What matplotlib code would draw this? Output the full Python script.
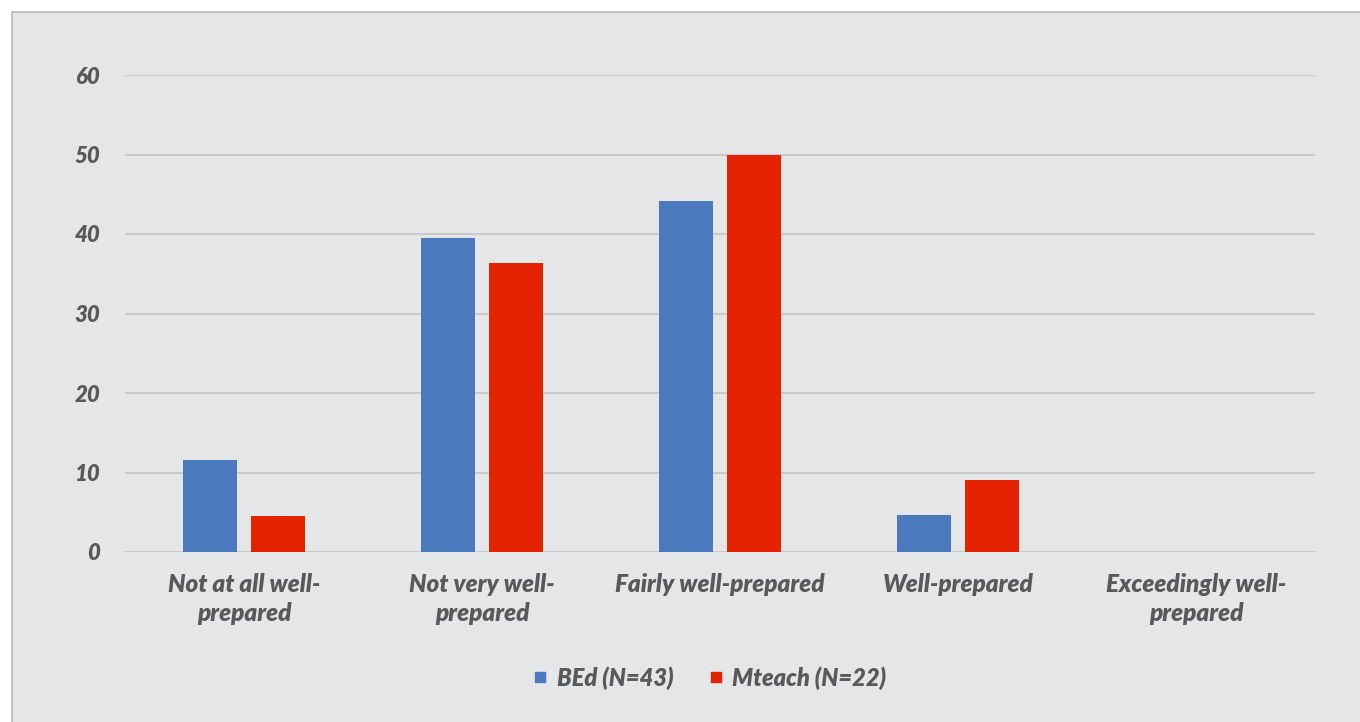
import numpy as np
import matplotlib.pyplot as plt
from matplotlib.patches import Rectangle
from matplotlib.lines import Line2D

categories = ["Not at all well-\nprepared", "Not very well-\nprepared", "Fairly well-prepared",
              "Well-prepared", "Exceedingly well-\nprepared"]
bed = [11.6, 39.5, 44.2, 4.7, 0]
mteach = [4.5, 36.4, 50.0, 9.1, 0]
series_names = ["BEd (N=43)", "Mteach (N=22)"]

blue = "#4a7abd"
red = "#e62300"
txt = "#595959"
bg = "#e5e6e8"

plt.rcParams['font.family'] = ['Lato', 'DejaVu Sans']

fig = plt.figure(figsize=(13.6, 7.22), dpi=100)
fig.patch.set_facecolor("white")
# grey chart panel with a thin border on top/left
fig.patches.append(Rectangle((12 / 1360, -0.01), 1.01, (722 - 12) / 722 + 0.01,
                             transform=fig.transFigure, facecolor=bg,
                             edgecolor="#b5b5b5", linewidth=1.2, zorder=-5))

ax = fig.add_axes([125 / 1360, 170 / 722, 1190 / 1360, 477 / 722])
ax.set_zorder(2)
ax.patch.set_alpha(0)

x = np.arange(len(categories))
w = 0.227
off = 0.143
ax.bar(x - off, bed, w, color=blue, zorder=3)
ax.bar(x + off, mteach, w, color=red, zorder=3)

ax.set_xlim(-0.5, 4.5)
ax.set_ylim(0, 60)
ax.set_yticks(range(0, 61, 10))
ax.yaxis.grid(True, color="#c6c6c6", linewidth=1.3, zorder=0)
ax.set_axisbelow(True)
for s in ax.spines.values():
    s.set_visible(False)
ax.tick_params(length=0)
ax.tick_params(axis="y", pad=18)
ax.tick_params(axis="x", pad=15)
ax.set_xticks(x)
ax.set_xticklabels(categories, linespacing=1.35)
for lab in ax.get_xticklabels():
    lab.set_fontsize(17.5)
for lab in ax.get_yticklabels():
    lab.set_fontsize(16)
for lab in ax.get_xticklabels() + ax.get_yticklabels():
    lab.set_fontweight("heavy")
    lab.set_fontstyle("italic")
    lab.set_color(txt)

handles = [Line2D([], [], marker="s", linestyle="none", markersize=7, color=c)
           for c in (blue, red)]
leg = fig.legend(handles, series_names, loc="center", bbox_to_anchor=(705 / 1360, 1 - 678 / 722),
                 ncol=2, frameon=False, handletextpad=0.0, columnspacing=1.1, handlelength=1.4,
                 prop={"size": 17, "weight": "heavy", "style": "italic"})
for t in leg.get_texts():
    t.set_color(txt)

fig.savefig("out.png", dpi=100)
